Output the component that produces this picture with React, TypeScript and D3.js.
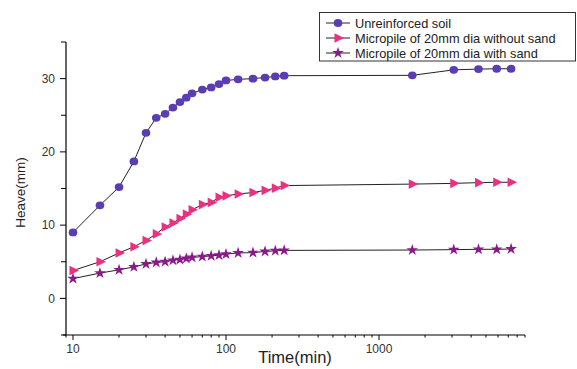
import * as d3 from 'd3';

const times = [10, 15, 20, 25, 30, 35, 40, 45, 50, 55, 60, 70, 80, 90, 100, 120, 150, 180, 210, 240, 1650, 3080, 4470, 5880, 7300];
const unreinforced = [9.0, 12.7, 15.2, 18.7, 22.6, 24.65, 25.2, 26.05, 26.8, 27.4, 28.0, 28.5, 28.8, 29.25, 29.75, 29.9, 30.0, 30.15, 30.3, 30.4, 30.45, 31.2, 31.3, 31.35, 31.35];
const withoutSand = [3.8, 5.0, 6.2, 7.05, 7.9, 8.8, 9.75, 10.3, 10.9, 11.5, 12.1, 12.8, 13.1, 13.8, 14.0, 14.25, 14.45, 14.75, 15.05, 15.4, 15.6, 15.7, 15.8, 15.85, 15.85];
const withSand = [2.7, 3.45, 3.9, 4.3, 4.7, 4.9, 5.0, 5.2, 5.3, 5.45, 5.6, 5.7, 5.8, 5.9, 6.05, 6.2, 6.25, 6.4, 6.5, 6.55, 6.6, 6.65, 6.7, 6.7, 6.75];

const seriesNames = ['Unreinforced soil', 'Micropile of 20mm dia without sand', 'Micropile of 20mm dia with sand'];
const seriesColors = ['#5a3cb4', '#ee2f7f', '#8a1a8c'];
const xMajorTicks = [10, 100, 1000];
const yMajorTicks = [0, 10, 20, 30];

const W = 577;
const H = 369;
const plot = { left: 66, right: 525, top: 42, bottom: 335 };
const font = '"Liberation Sans", Arial, sans-serif';

const triPath = 'M-3.5,-4.8L6,0L-3.5,4.8Z';
const starPath = d3.symbol(d3.symbolStar, 42)() ?? '';

function Marker({ kind, color, x, y }: { kind: number; color: string; x: number; y: number }) {
  if (kind === 0) return <ellipse cx={x} cy={y} rx={4.3} ry={3.9} fill={color} />;
  if (kind === 1) return <path d={triPath} transform={`translate(${x},${y})`} fill={color} />;
  return <path d={starPath} transform={`translate(${x},${y})`} fill={color} />;
}

export default function App() {
  const x = d3.scaleLog().domain([9, 9000]).range([plot.left, plot.right]);
  const y = d3.scaleLinear().domain([-5, 35]).range([plot.bottom, plot.top]);

  const xMinor: number[] = [];
  for (const dec of [1, 10, 100, 1000]) {
    for (let m = 1; m <= 9; m++) {
      const v = dec * m;
      if (v >= 9 && v <= 9000 && !xMajorTicks.includes(v)) xMinor.push(v);
    }
  }
  const yMinor = d3.range(-5, 36, 10);

  const series = [unreinforced, withoutSand, withSand];
  const line = d3
    .line<number>()
    .x((_, i) => x(times[i]))
    .y((d) => y(d));

  return (
    <svg width={W} height={H} style={{ position: 'absolute', left: 0, top: 0, background: '#fff' }} fontFamily={font}>
      {/* axes */}
      <line x1={plot.left} x2={plot.left} y1={plot.top} y2={plot.bottom} stroke="#000" strokeWidth={1.2} />
      <line x1={plot.left - 3} x2={plot.right} y1={plot.bottom} y2={plot.bottom} stroke="#000" strokeWidth={1.2} />
      {yMajorTicks.map((t) => (
        <g key={`ym${t}`}>
          <line x1={plot.left - 6} x2={plot.left} y1={y(t)} y2={y(t)} stroke="#000" />
          <text x={plot.left - 11} y={y(t)} dy="0.35em" textAnchor="end" fontSize={12} fill="#333">
            {t}
          </text>
        </g>
      ))}
      {yMinor.map((t) => (
        <line key={`yn${t}`} x1={plot.left - 5} x2={plot.left} y1={y(t)} y2={y(t)} stroke="#000" />
      ))}
      {xMajorTicks.map((t) => (
        <g key={`xm${t}`}>
          <line x1={x(t)} x2={x(t)} y1={plot.bottom} y2={plot.bottom + 5} stroke="#000" />
          <text x={x(t)} y={plot.bottom + 18} textAnchor="middle" fontSize={12} fill="#333">
            {t}
          </text>
        </g>
      ))}
      {xMinor.map((t) => (
        <line key={`xn${t}`} x1={x(t)} x2={x(t)} y1={plot.bottom} y2={plot.bottom + 2.5} stroke="#000" />
      ))}
      <text x={295} y={363} textAnchor="middle" fontSize={16.5} fill="#222">
        Time(min)
      </text>
      <text transform={`translate(25,${(plot.top + plot.bottom) / 2 + 4}) rotate(-90)`} textAnchor="middle" fontSize={13.5} fill="#222">
        Heave(mm)
      </text>

      {/* data */}
      {series.map((s, k) => (
        <g key={`s${k}`}>
          <path d={line(s) ?? ''} fill="none" stroke="#222" strokeWidth={1} />
          {s.map((v, i) => (
            <Marker key={i} kind={k} color={seriesColors[k]} x={x(times[i])} y={y(v)} />
          ))}
        </g>
      ))}

      {/* legend */}
      <rect x={319.5} y={12.5} width={256} height={48.5} fill="#fff" stroke="#333" strokeWidth={1} />
      {seriesNames.map((n, k) => {
        const ly = 23 + k * 15;
        return (
          <g key={`l${k}`}>
            <line x1={326} x2={350} y1={ly} y2={ly} stroke="#222" />
            <Marker kind={k} color={seriesColors[k]} x={338} y={ly} />
            <text x={355} y={ly} dy="0.36em" fontSize={12.8} fill="#222">
              {n}
            </text>
          </g>
        );
      })}
    </svg>
  );
}
